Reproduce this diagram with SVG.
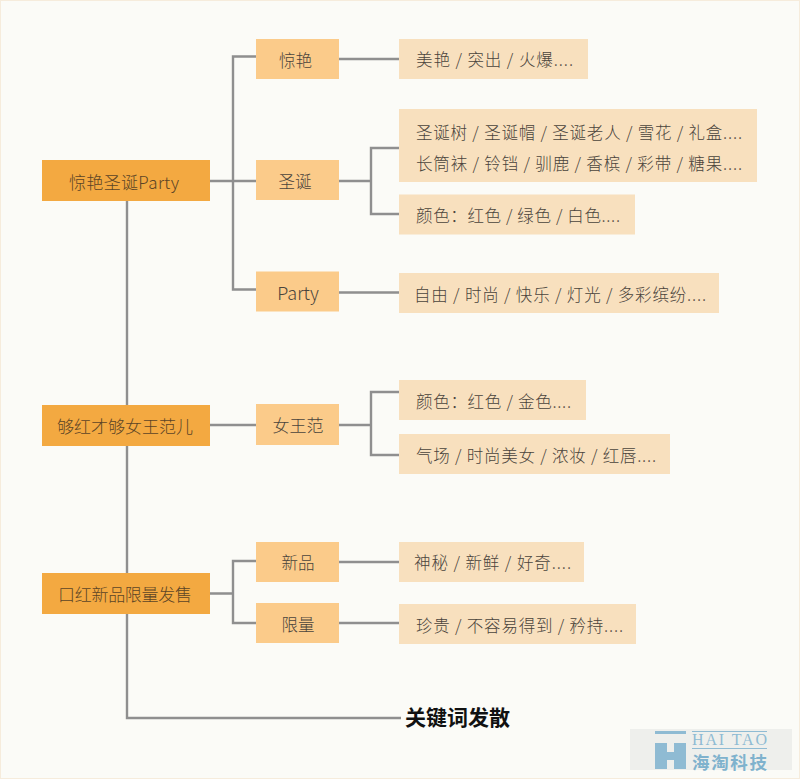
<svg xmlns="http://www.w3.org/2000/svg" width="800" height="779" viewBox="0 0 800 779">
<style>
text{font-family:"Noto Sans CJK SC","Noto Sans",sans-serif;font-weight:300;fill:#4a443c;font-size:16.500px}
.c{text-anchor:middle;dominant-baseline:central}
.l{dominant-baseline:central}
.m{fill:#f3a941}.s{fill:#fbcb8a}.d{fill:#f8e0be}
.t{fill:#5c4526;font-size:17px}
#conn path{fill:none;stroke:#8f8f8f;stroke-width:2.400}
</style>
<rect width="800" height="779" fill="#fbfbf7"/>
<rect x="0.500" y="0.500" width="799" height="778" fill="none" stroke="#f6ecdc"/>
<g id="conn">
<path d="M127 201V405M127 445V574M127 614V718H401"/>
<path d="M210 181H256M233 181V56.500H256M233 181V289.500H256"/>
<path d="M339 59H399M339 181H371M399 148H371V214H399M339 292.500H399"/>
<path d="M210 425H256M339 425H371M399 392H371V455H399"/>
<path d="M210 593.500H233M256 561H233V623H256M339 562H399M339 623H399"/>
</g>
<g id="n1"><rect class="m" x="42" y="160" width="168" height="41"/><text class="c t" x="124" y="181" textLength="110">惊艳圣诞Party</text></g>
<g id="n2"><rect class="m" x="42" y="405" width="168" height="41"/><text class="c t" x="125" y="425" textLength="136">够红才够女王范儿</text></g>
<g id="n3"><rect class="m" x="42" y="573" width="168" height="41"/><text class="c t" x="125" y="593" textLength="134">口红新品限量发售</text></g>
<g id="s1"><rect class="s" x="256" y="39" width="83" height="40"/><text class="c" x="295.500" y="60">惊艳</text></g>
<g id="s2"><rect class="s" x="256" y="160" width="83" height="40"/><text class="c" x="295" y="181">圣诞</text></g>
<g id="s3"><rect class="s" x="256" y="271.500" width="83" height="40"/><text class="c" x="298" y="292" style="font-size:18px">Party</text></g>
<g id="s4"><rect class="s" x="256" y="404" width="83" height="41"/><text class="c" x="298" y="424" style="font-size:17px">女王范</text></g>
<g id="s5"><rect class="s" x="256" y="542" width="83" height="40"/><text class="c" x="298" y="562">新品</text></g>
<g id="s6"><rect class="s" x="256" y="603" width="83" height="40"/><text class="c" x="298" y="624">限量</text></g>
<g id="d1"><rect class="d" x="399" y="39" width="189" height="40"/><text class="l" x="416" y="59" textLength="157">美艳 / 突出 / 火爆....</text></g>
<g id="d2"><rect class="d" x="399" y="109" width="358" height="73"/><text class="l" x="416" y="132" textLength="326">圣诞树 / 圣诞帽 / 圣诞老人 / 雪花 / 礼盒....</text><text class="l" x="416" y="163" textLength="326">长筒袜 / 铃铛 / 驯鹿 / 香槟 / 彩带 / 糖果....</text></g>
<g id="d3"><rect class="d" x="399" y="194.500" width="236" height="40"/><text class="l" x="416" y="215" textLength="204">颜色：红色 / 绿色 / 白色....</text></g>
<g id="d4"><rect class="d" x="399" y="273" width="320" height="40"/><text class="l" x="414" y="293.500" textLength="292">自由 / 时尚 / 快乐 / 灯光 / 多彩缤纷....</text></g>
<g id="d5"><rect class="d" x="399" y="380" width="187" height="40"/><text class="l" x="416" y="401" textLength="155">颜色：红色 / 金色....</text></g>
<g id="d6"><rect class="d" x="399" y="434" width="271" height="40"/><text class="l" x="416" y="455" textLength="240">气场 / 时尚美女 / 浓妆 / 红唇....</text></g>
<g id="d7"><rect class="d" x="399" y="542" width="185" height="40"/><text class="l" x="414" y="562" textLength="157">神秘 / 新鲜 / 好奇....</text></g>
<g id="d8"><rect class="d" x="399" y="604" width="237" height="40"/><text class="l" x="416" y="625" textLength="207">珍贵 / 不容易得到 / 矜持....</text></g>
<text id="title" class="l" x="405" y="716" style="font-size:21px;font-weight:700;fill:#111">关键词发散</text>
<g id="logo">
<rect x="630" y="729" width="162" height="41" fill="#eeefec"/>
<rect x="655" y="731" width="31" height="3" fill="#8fbbd3"/>
<path d="M655 743H667V752H674V743H686V769H674V760H667V769H655Z" fill="#8fbbd3"/>
<rect x="692" y="731" width="75" height="1" fill="#8fbbd3"/>
<text x="692" y="744.500" textLength="75" style="font-family:'Liberation Serif',serif;font-weight:400;font-size:16px;fill:#8fbbd3">HAI TAO</text>
<rect x="692" y="748" width="75" height="1" fill="#8fbbd3"/>
<text x="692" y="768.500" textLength="75" style="font-weight:700;font-size:17.500px;fill:#7fb2cd">海淘科技</text>
</g>
</svg>
